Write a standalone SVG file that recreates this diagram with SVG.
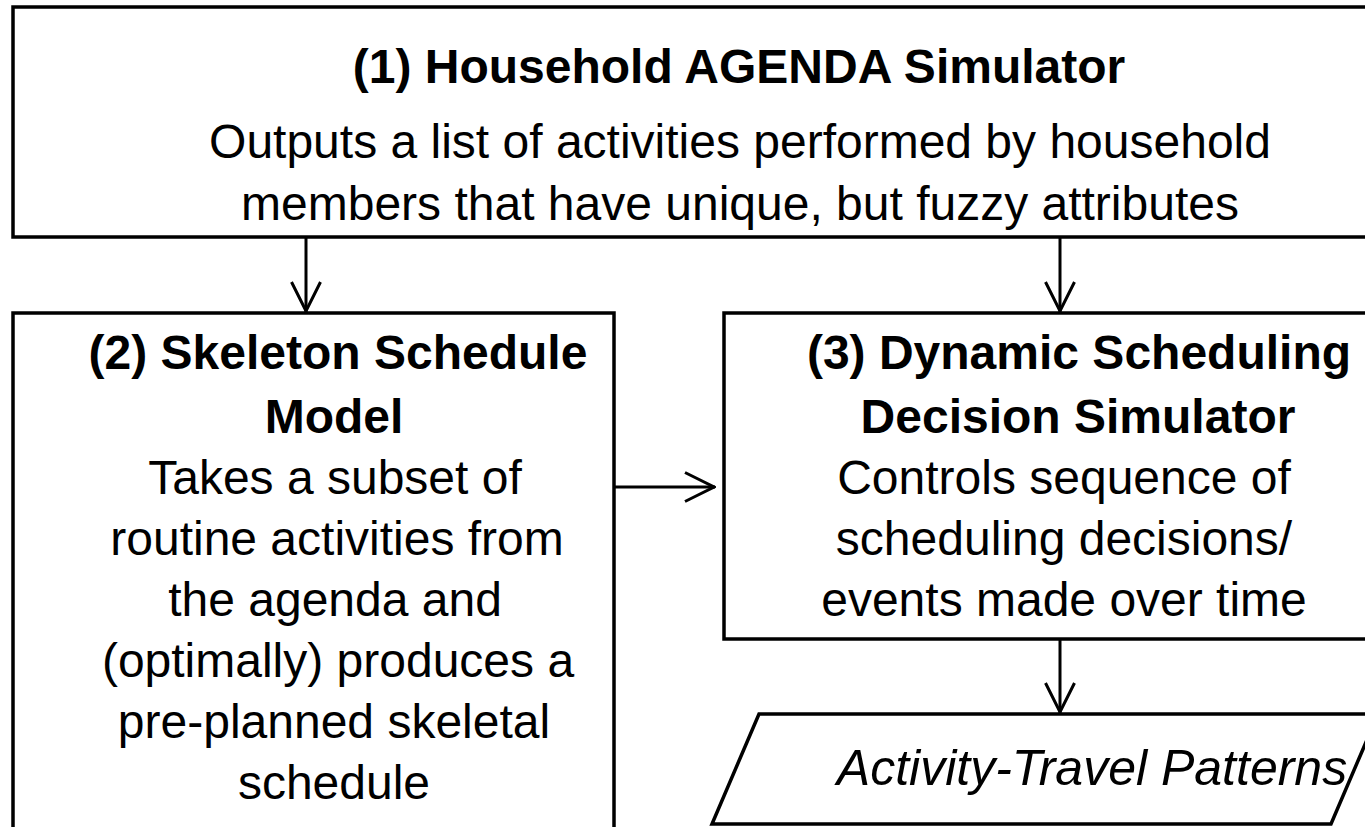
<svg xmlns="http://www.w3.org/2000/svg" width="1365" height="827" viewBox="0 0 1365 827">
<defs>
<style>
.box{fill:#fff;stroke:#000;stroke-width:3.5}
.t{font-family:"Liberation Sans",Arial,sans-serif;font-size:48px;fill:#000;text-anchor:middle}
.b{font-weight:bold}
.i{font-style:italic;font-size:50px}
.c{fill:none;stroke:#000;stroke-width:3}
</style>
<marker id="ah" viewBox="0 0 32 32" refX="31" refY="16" markerWidth="32" markerHeight="32" markerUnits="userSpaceOnUse" orient="auto">
<path d="M1,1.5 L30,16 L1,30.5" fill="none" stroke="#000" stroke-width="3"/>
</marker>
</defs>
<rect width="1365" height="827" fill="#fff"/>
<g id="node1">
<rect class="box" x="13" y="7" width="1370" height="230"/>
<text class="t b" x="739" y="83">(1) Household AGENDA Simulator</text>
<text class="t" x="740" y="158">Outputs a list of activities performed by household</text>
<text class="t" x="740" y="220">members that have unique, but fuzzy attributes</text>
</g>
<g id="node2">
<rect class="box" x="13" y="313" width="601" height="540"/>
<text class="t b" x="338" y="369">(2) Skeleton Schedule</text>
<text class="t b" x="334" y="433">Model</text>
<text class="t" x="335" y="494">Takes a subset of</text>
<text class="t" x="337" y="555">routine activities from</text>
<text class="t" x="335" y="616">the agenda and</text>
<text class="t" x="338" y="677">(optimally) produces a</text>
<text class="t" x="334" y="738">pre-planned skeletal</text>
<text class="t" x="334" y="799">schedule</text>
</g>
<g id="node3">
<rect class="box" x="724" y="313" width="680" height="326"/>
<text class="t b" x="1079" y="369">(3) Dynamic Scheduling</text>
<text class="t b" x="1078" y="433">Decision Simulator</text>
<text class="t" x="1064" y="494">Controls sequence of</text>
<text class="t" x="1064" y="555">scheduling decisions/</text>
<text class="t" x="1064" y="616">events made over time</text>
</g>
<g id="node4">
<polygon class="box" points="759,714 1378,714 1331,824 712,824"/>
<text class="t i" x="1092" y="785">Activity-Travel Patterns</text>
</g>
<g id="connectors">
<line class="c" x1="306" y1="237" x2="306" y2="312" marker-end="url(#ah)"/>
<line class="c" x1="1060" y1="237" x2="1060" y2="312" marker-end="url(#ah)"/>
<line class="c" x1="614" y1="487" x2="715" y2="487" marker-end="url(#ah)"/>
<line class="c" x1="1060" y1="639" x2="1060" y2="713" marker-end="url(#ah)"/>
</g>
</svg>
